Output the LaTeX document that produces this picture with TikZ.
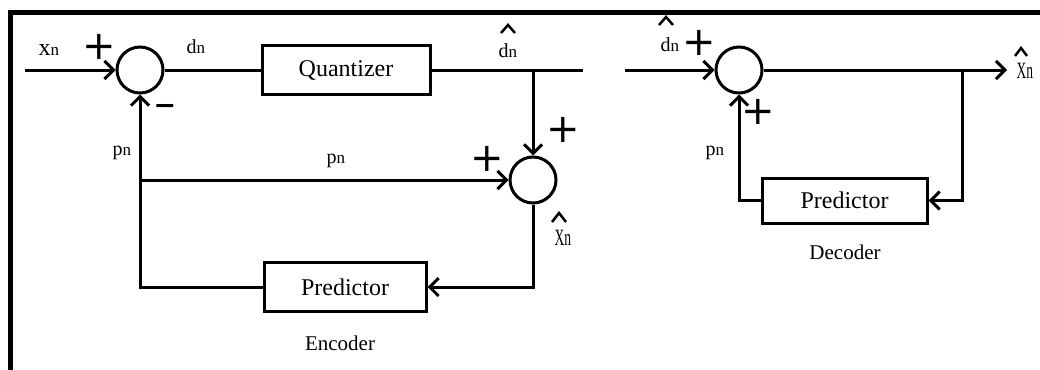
\documentclass[tikz,border=0pt]{standalone}
\usepackage{fontspec}
\setmainfont{Liberation Serif}
\newfontfamily\signfont{DejaVu Sans}
\usetikzlibrary{arrows.meta}
\newcommand\sigtxt[2]{{\fontsize{20}{22}\selectfont #1}{\fontsize{17}{19}\selectfont #2}}
\newcommand\hattxt{\scalebox{0.75}[1.3]{\fontsize{18}{20}\selectfont Xn}}
\begin{document}
\begin{tikzpicture}[x=1pt,y=-1pt,line width=3pt,
  sumnode/.style={circle,draw,line width=3pt,minimum size=46pt,inner sep=0pt},
  blockbox/.style={rectangle,draw,line width=3pt,inner sep=0pt,font=\fontsize{24}{28}\selectfont},
  sig/.style={-{Straight Barb[length=9pt,width=18pt]}},
  lbl/.style={inner sep=0pt,anchor=base west},
  caption/.style={inner sep=0pt,font=\fontsize{21}{24}\selectfont},
  signlbl/.style={inner sep=0pt,font=\signfont\fontsize{40}{40}\selectfont},
  minuslbl/.style={inner sep=0pt,font=\signfont\bfseries\fontsize{27}{27}\selectfont},
  hatmark/.style={line width=2.5pt,miter limit=4}]
\useasboundingbox (0,0) rectangle (1040,369);
% frame
\draw[line width=5pt] (1045,13) -- (10,13) -- (10,375);
% ---------------- Encoder ----------------
\coordinate (in) at (25,70);
\node[sumnode] (s1) at (140,70) {};
\node[blockbox,minimum width=168pt,minimum height=49pt] (q) at (346,70) {Quantizer};
\coordinate (e1) at (583,70);
\coordinate (j1) at (533,70);
\node[sumnode] (s2) at (533,180) {};
\coordinate (j2) at (140,180);
\node[blockbox,minimum width=162pt,minimum height=49pt] (p1) at (345,287) {Predictor};
\draw[sig] (in) -- (s1);
\draw (s1) -- (q);
\draw (q) -- (e1);
\draw[sig] (j1) -- (s2);
\draw[sig] (j2) -- (s2);
\draw[sig] (s2.south) |- (p1.east);
\draw[sig] (p1.west) -| (s1.south);
\node[lbl] (lx) at (37,56) {{\fontsize{24}{26}\selectfont x}{\fontsize{17}{19}\selectfont n}};
\node[lbl] (ld1) at (185,53) {\sigtxt{d}{n}};
\node[lbl] (ldh1) at (497,58) {\sigtxt{d}{n}};
\node[lbl] (lp1) at (111,155) {\sigtxt{p}{n}};
\node[lbl] (lp2) at (325,163) {\sigtxt{p}{n}};
\node[lbl] (lxh1) at (553,245) {\hattxt};
\draw[hatmark] (501,33) -- (508,25) -- (515,33);
\draw[hatmark] (552,222) -- (559,213) -- (566,222);
\node[signlbl] (pl1) at (99,47) {+};
\node[minuslbl] (mi1) at (165,109) {−};
\node[signlbl] (pl2) at (563,130) {+};
\node[signlbl] (pl3) at (487,159) {+};
\node[caption] (enc) at (340,343) {Encoder};
% ---------------- Decoder ----------------
\coordinate (din) at (625,70);
\node[sumnode] (s3) at (739,70) {};
\coordinate (out) at (1007,70);
\coordinate (j3) at (962,70);
\node[blockbox,minimum width=165pt,minimum height=45pt] (p2) at (844.5,200.5) {Predictor};
\draw[sig] (din) -- (s3);
\draw[sig] (s3) -- (out);
\draw[sig] (j3) |- (p2.east);
\draw[sig] (p2.west) -| (s3.south);
\node[lbl] (ld2) at (659,52) {\sigtxt{d}{n}};
\node[lbl] (lp3) at (704,155) {\sigtxt{p}{n}};
\node[lbl] (lxh2) at (1015,78) {\hattxt};
\draw[hatmark] (659,25) -- (666,17) -- (673,25);
\draw[hatmark] (1015,56) -- (1021,48) -- (1027,56);
\node[signlbl] (pl4) at (699,43) {+};
\node[signlbl] (pl5) at (758,112) {+};
\node[caption] (dec) at (845,252) {Decoder};
\end{tikzpicture}
\end{document}
